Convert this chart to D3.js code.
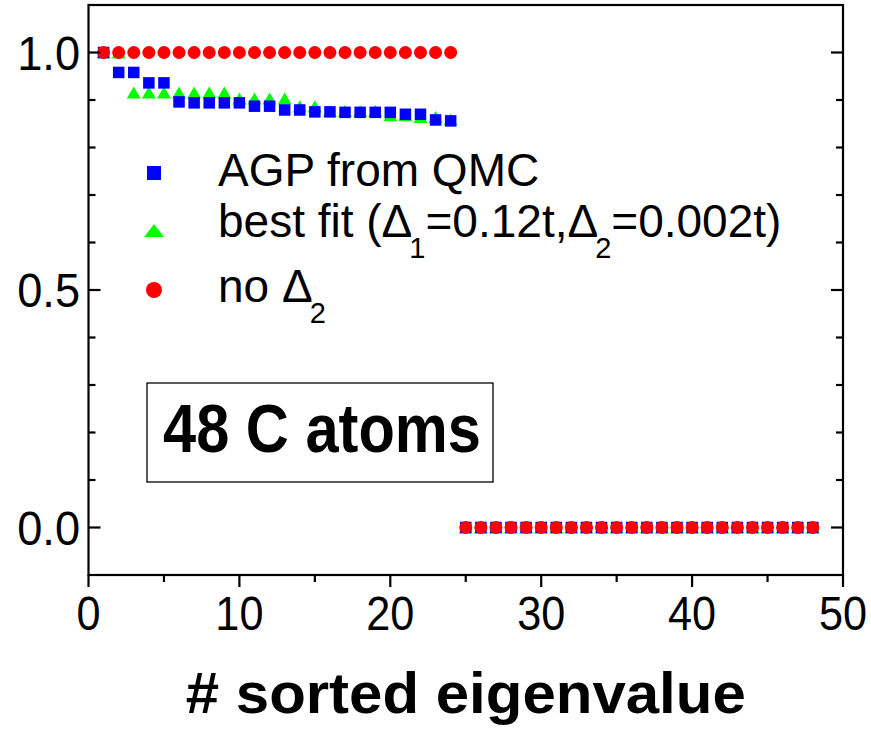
<!DOCTYPE html>
<html>
<head>
<meta charset="utf-8">
<script src="https://cdn.jsdelivr.net/npm/d3@7"></script>
<style>
  html, body { margin: 0; padding: 0; background: #fff; }
  svg { display: block; font-family: "Liberation Sans", Arial, sans-serif; }
</style>
</head>
<body>
<svg id="chart" width="871" height="733"></svg>
<script>
// ---- data ----
const eigIndex = d3.range(1, 49);
const agpQMC = [1.0, 0.958, 0.958, 0.936, 0.936, 0.896, 0.894, 0.894, 0.894, 0.894,
  0.887, 0.887, 0.879, 0.879, 0.875, 0.875, 0.874, 0.874, 0.874, 0.874,
  0.870, 0.870, 0.858, 0.856,
  0,0,0,0,0,0,0,0,0,0,0,0,0,0,0,0,0,0,0,0,0,0,0,0];
const bestFit = [1.0, 1.0, 0.916, 0.916, 0.916, 0.916, 0.916, 0.916, 0.916, 0.903,
  0.903, 0.903, 0.903, 0.887, 0.887, 0.877, 0.877, 0.877, 0.877, 0.868,
  0.868, 0.864, 0.864, 0.859,
  0,0,0,0,0,0,0,0,0,0,0,0,0,0,0,0,0,0,0,0,0,0,0,0];
const noDelta2 = [1,1,1,1,1,1,1,1,1,1,1,1,1,1,1,1,1,1,1,1,1,1,1,1,
  0,0,0,0,0,0,0,0,0,0,0,0,0,0,0,0,0,0,0,0,0,0,0,0];
const xTickValues = [0, 10, 20, 30, 40, 50];
const xMinorTicks = [5, 15, 25, 35, 45];
const yTickValues = [0.0, 0.5, 1.0];
const yMinorTicks = [0.1, 0.2, 0.3, 0.4, 0.6, 0.7, 0.8, 0.9];
const xLabel = "# sorted eigenvalue";
const boxLabel = "48 C atoms";

// ---- layout ----
const svg = d3.select("#chart");
const L = 88.5, R = 843, T = 5, B = 575;
const x = d3.scaleLinear().domain([0, 50]).range([L, R]);
const y = d3.scaleLinear().domain([-0.1, 1.1]).range([B, T]);

function condense(sel, ratio) {
  sel.each(function() {
    const w = this.getComputedTextLength();
    d3.select(this).attr("textLength", w * ratio).attr("lengthAdjust", "spacingAndGlyphs");
  });
}

// ---- markers (green under blue under red) ----
const sq = 11.5, cd = 13, tw = 14, th = 12;
svg.append("g").selectAll("path").data(eigIndex)
  .join("path")
  .attr("d", (d, i) => {
    const cx = x(d), cy = y(bestFit[i]);
    return `M${cx},${cy - th/2}L${cx + tw/2},${cy + th/2}L${cx - tw/2},${cy + th/2}Z`;
  })
  .attr("fill", "#00ff00");
svg.append("g").selectAll("rect").data(eigIndex)
  .join("rect")
  .attr("x", d => x(d) - sq/2)
  .attr("y", (d, i) => y(agpQMC[i]) - sq/2)
  .attr("width", sq).attr("height", sq)
  .attr("fill", "#0000ff");
svg.append("g").selectAll("circle").data(eigIndex)
  .join("circle")
  .attr("cx", d => x(d))
  .attr("cy", (d, i) => y(noDelta2[i]))
  .attr("r", cd/2)
  .attr("fill", "#ff0000");

// ---- frame and ticks ----
const axG = svg.append("g").attr("stroke", "#000").attr("stroke-width", 2.2);
axG.append("rect").attr("x", L).attr("y", T).attr("width", R - L).attr("height", B - T)
  .attr("fill", "none");
// bottom ticks (outward)
axG.selectAll("line.xM").data(xTickValues).join("line")
  .attr("x1", d => x(d)).attr("x2", d => x(d)).attr("y1", B).attr("y2", B + 12);
axG.selectAll("line.xm").data(xMinorTicks).join("line").attr("class", "xm")
  .attr("x1", d => x(d)).attr("x2", d => x(d)).attr("y1", B).attr("y2", B + 7);
// left & right ticks (inward)
[[L, 1], [R, -1]].forEach(([ax, dir]) => {
  axG.append("g").selectAll("line").data(yTickValues).join("line")
    .attr("x1", ax).attr("x2", ax + dir * 12).attr("y1", d => y(d)).attr("y2", d => y(d));
  axG.append("g").selectAll("line").data(yMinorTicks).join("line")
    .attr("x1", ax).attr("x2", ax + dir * 7).attr("y1", d => y(d)).attr("y2", d => y(d));
});

// ---- tick labels ----
svg.append("g").selectAll("text").data(xTickValues).join("text")
  .attr("x", d => x(d)).attr("y", 630)
  .attr("text-anchor", "middle").attr("font-size", 48)
  .text(d => d3.format("d")(d))
  .call(condense, 0.9);
svg.append("g").selectAll("text").data(yTickValues).join("text")
  .attr("x", 80).attr("y", d => y(d) + 17)
  .attr("text-anchor", "end").attr("font-size", 48)
  .text(d => d3.format(".1f")(d))
  .call(condense, 0.94);

// ---- x axis title ----
svg.append("text")
  .attr("x", (L + R) / 2).attr("y", 713)
  .attr("text-anchor", "middle").attr("font-size", 58).attr("font-weight", "bold")
  .attr("textLength", 560).attr("lengthAdjust", "spacingAndGlyphs")
  .text(xLabel);

// ---- box label ----
svg.append("rect").attr("x", 147).attr("y", 383).attr("width", 346).attr("height", 99)
  .attr("fill", "none").attr("stroke", "#000").attr("stroke-width", 1.3);
svg.append("text").attr("x", 163).attr("y", 452)
  .attr("font-size", 69).attr("font-weight", "bold")
  .attr("textLength", 318).attr("lengthAdjust", "spacingAndGlyphs")
  .text(boxLabel);

// ---- legend ----
const leg = svg.append("g");
const lx = 154, tx = 218, fs = 46, subFs = 29;
leg.append("rect").attr("x", lx - 7).attr("y", 173 - 7).attr("width", 14).attr("height", 14).attr("fill", "#0000ff");
leg.append("path").attr("d", `M${lx},${224}L${lx + 10},${237}L${lx - 10},${237}Z`).attr("fill", "#00ff00");
leg.append("circle").attr("cx", lx).attr("cy", 290).attr("r", 8).attr("fill", "#ff0000");

function richLine(parts, x0, base) {
  let cx = x0;
  parts.forEach(p => {
    const t = leg.append("text").attr("x", cx).attr("y", base + (p.sub ? 21 : 0))
      .attr("font-size", p.sub ? subFs : fs).text(p.t);
    cx += t.node().getComputedTextLength() + (p.after || 0);
  });
}
richLine([{t: "AGP from QMC"}], tx, 186);
richLine([
  {t: "best fit (Δ", after: -3}, {t: "1", sub: true, after: 0},
  {t: "=0.12t,Δ", after: -3}, {t: "2", sub: true, after: 0},
  {t: "=0.002t)"}
], tx, 237);
richLine([{t: "no Δ", after: -3}, {t: "2", sub: true}], tx, 302);
</script>
</body>
</html>
